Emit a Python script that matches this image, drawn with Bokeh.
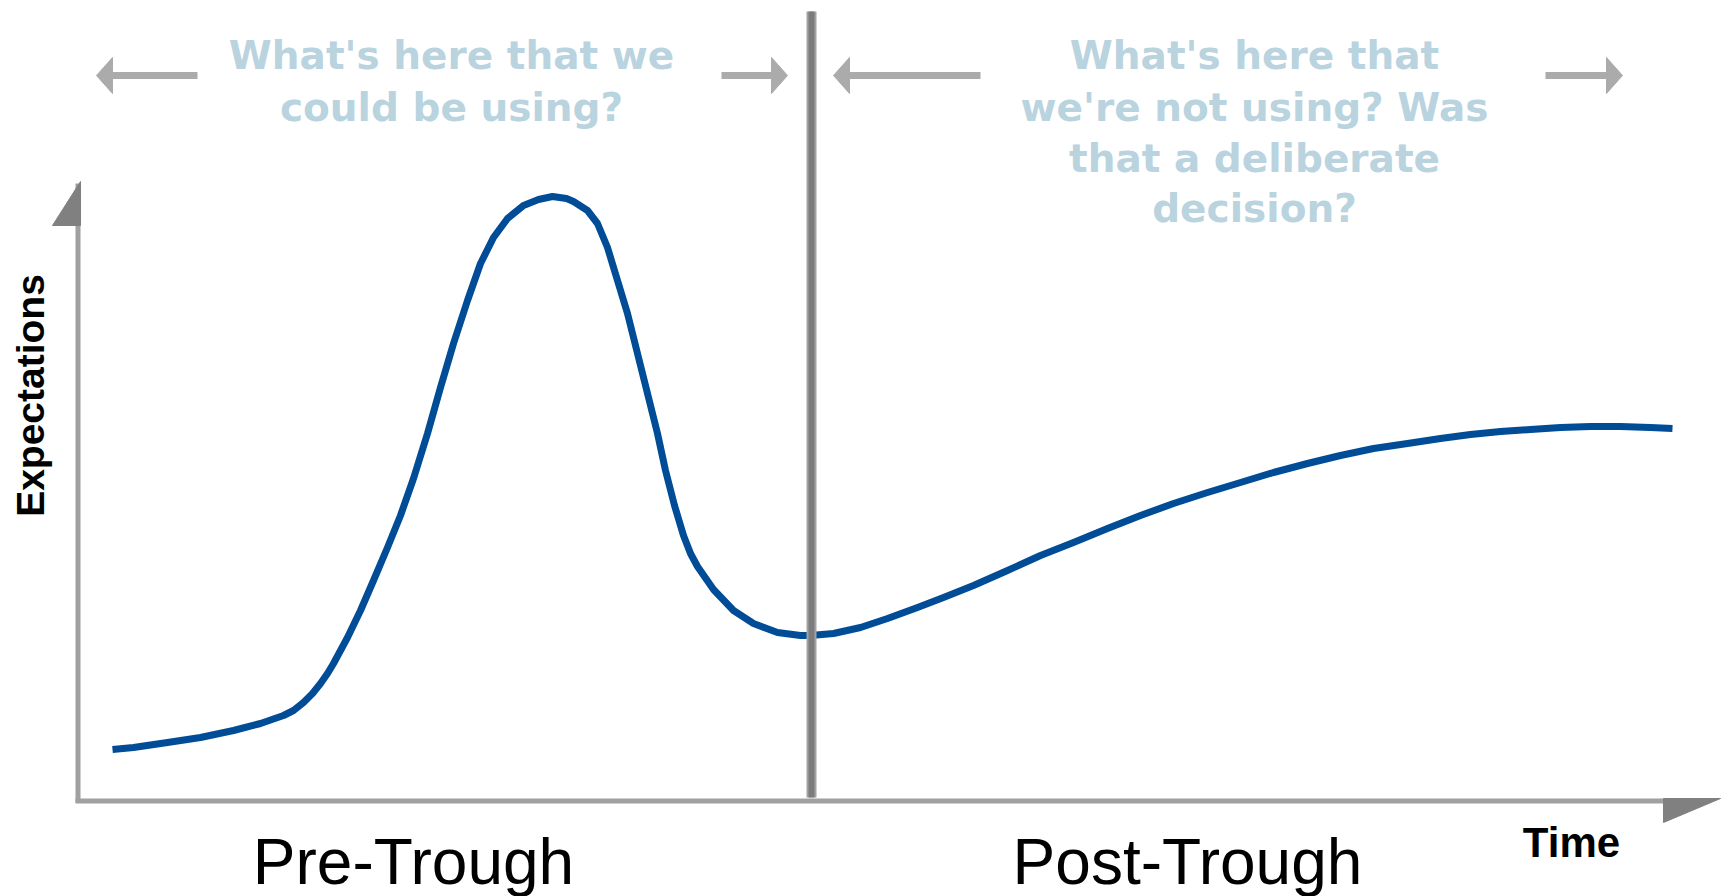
import math
from bokeh.plotting import figure
from bokeh.models import Range1d, ColumnDataSource
from bokeh.core.properties import value
from bokeh.embed import file_html
from bokeh.resources import INLINE

# ---------------- data (arbitrary units) ----------------
time = [37, 58, 92, 125, 158, 185, 208, 218, 228, 237,
        245, 252, 258, 272, 285, 298, 312, 325, 338, 352,
        365, 378, 392, 405, 418, 432, 448, 463, 477, 491,
        498, 512, 522, 532, 542, 552, 562, 572, 582, 590,
        599, 608, 615, 622, 638, 658, 678, 702, 725, 735,
        758, 785, 812, 842, 868, 898, 932, 965, 998, 1032,
        1065, 1098, 1132, 1165, 1198, 1232, 1265, 1298, 1332, 1365,
        1395, 1425, 1455, 1485, 1515, 1545, 1575, 1597]
expectations = [50, 52, 57, 62, 69, 76, 84, 89, 97, 106,
                116, 126, 136, 162, 189, 219, 252, 284, 321, 366,
                412, 456, 499, 536, 562, 581, 594, 600, 603, 601,
                598, 589, 576, 552, 519, 486, 446, 406, 366, 329,
                294, 264, 246, 233, 210, 189, 176, 167, 164, 164,
                166, 172, 181, 192, 202, 214, 229, 244, 257, 271,
                284, 296, 307, 317, 327, 336, 344, 351, 356, 361,
                365, 368, 370, 372, 373, 373, 372, 371]

trough_time = 736
phase_labels = ["Pre-Trough", "Post-Trough"]
left_question = ["What's here that we", "could be using?"]
right_question = ["What's here that", "we're not using? Was",
                  "that a deliberate", "decision?"]
y_axis_label = "Expectations"
x_axis_label = "Time"

# ---------------- figure ----------------
W, H = 1723, 896
p = figure(width=W, height=H, output_backend="svg", toolbar_location=None,
           x_range=Range1d(-75, 1648), y_range=Range1d(-97, 799),
           x_axis_type=None, y_axis_type=None,
           min_border=0, min_border_left=0, min_border_right=0,
           min_border_top=0, min_border_bottom=0)
p.outline_line_color = None
p.background_fill_color = "white"
p.border_fill_color = "white"

AXIS = "#a0a0a0"
HEAD = "#808080"
ARROW = "#ababab"
TITLE_COL = "#b9d3df"

# axes lines with half-triangle arrowheads
p.segment(x0=[2.5], y0=[-3], x1=[2.5], y1=[616], line_color=AXIS, line_width=5)
p.patch(x=[5, 5, -23], y=[618, 574, 574], fill_color=HEAD,
        line_color=HEAD, line_width=1)
p.segment(x0=[0], y0=[-1.5], x1=[1589], y1=[-1.5], line_color=AXIS, line_width=5)
p.patch(x=[1588, 1645, 1588], y=[1, 1, -23], fill_color=HEAD,
        line_color=HEAD, line_width=1)

# curve
src = ColumnDataSource(dict(t=time, e=expectations))
p.line("t", "e", source=src, line_color="#004c97", line_width=7,
       line_join="round", line_cap="butt")

# divider at the trough
p.segment(x0=[trough_time], y0=[2], x1=[trough_time], y1=[788],
          line_color="#a3a3a3", line_width=10)
p.segment(x0=[trough_time], y0=[2], x1=[trough_time], y1=[788],
          line_color="#7c7c7c", line_width=6)

# top arrows: (tail, tip)
arrow_y = 724
arrows = [(122, 21), (646, 712), (905, 758), (1470, 1547)]
head_len, head_half = 16, 18
for tail, tip in arrows:
    d = 1 if tip > tail else -1
    base = tip - d * head_len
    p.segment(x0=[tail], y0=[arrow_y], x1=[base + d * 2], y1=[arrow_y],
              line_color=ARROW, line_width=7)
    p.patch(x=[tip, base, base], y=[arrow_y, arrow_y + head_half, arrow_y - head_half],
            fill_color=ARROW, line_color=ARROW, line_width=1)

# question texts
p.text(x=[376] * len(left_question), y=[744, 692], text=left_question,
       text_font=value("DejaVu Sans"), text_font_style="bold",
       text_font_size="39px", text_color=TITLE_COL,
       text_align="center", text_baseline="middle")
p.text(x=[1179] * len(right_question), y=[744, 692, 641, 591], text=right_question,
       text_font=value("DejaVu Sans"), text_font_style="bold",
       text_font_size="39px", text_color=TITLE_COL,
       text_align="center", text_baseline="middle")

# axis labels
p.text(x=[-45], y=[404], text=[y_axis_label], angle=math.pi / 2,
       text_font=value("Liberation Sans"), text_font_style="bold",
       text_font_size="39px", text_color="black",
       text_align="center", text_baseline="middle")
p.text(x=[1496], y=[-43], text=[x_axis_label],
       text_font=value("Liberation Sans"), text_font_style="bold",
       text_font_size="42px", text_color="black",
       text_align="center", text_baseline="middle")

# phase labels
p.text(x=[338, 1112], y=[-62, -62], text=phase_labels,
       text_font=value("Liberation Sans"), text_font_size="64px",
       text_color="black", text_align="center", text_baseline="middle")

open("out.html", "w").write(file_html(p, INLINE))
